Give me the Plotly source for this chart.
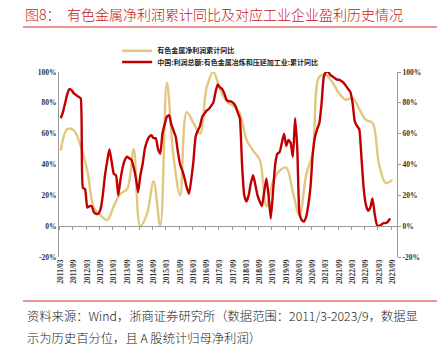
import plotly.graph_objects as go

# ---------------- data ----------------
month_labels = [f"{y}/{m:02d}" for y in range(2011, 2024) for m in range(1, 13)]
month_labels = month_labels[2:2 + 151]          # 2011/03 ... 2023/09

tick_labels = [f"{y}/{m}" for y in range(2011, 2024) for m in ("03", "09")]

# 有色金属净利润累计同比 (quarterly, historical percentile %)
gold_vals = [49, 63, 62, 52, 36, 12, 7, 4, 13, 21, 24, 50, 0, 8, 29, 0, 93, 45, 20, 74,
             67, 60, 90, 100, 89, 81, 78, 73, 56, 49, 43, 13, 29, 36, 38, 22, 7, 33, 48, 97,
             98, 93, 86, 82, 83, 76, 69, 67, 40, 28, 30]

# 中国:利润总额:有色金属冶炼和压延加工业:累计同比 (monthly, historical percentile %)
red_vals = [70, 74, 80, 86, 89, 88, 86, 85, 84, 83,
            25, 24, 12, 13, 13, 9, 8, 8, 11, 20,
            33, 42, 50, 42, 34, 33, 20, 30, 38, 43,
            45, 44, 43, 38, 31, 22, 33, 40, 50, 55,
            58, 59, 57, 57, 50, 47, 60, 66, 71, 72,
            66, 62, 58, 48, 40, 36, 31, 25, 21, 30,
            42, 58, 62, 65, 71, 73, 75, 76, 78, 80,
            87, 92, 90, 89, 86, 82, 81, 81, 80, 78,
            74, 70, 40, 20, 16, 20, 28, 33, 27, 20,
            16, 13, 22, 31, 20, 5, 22, 40, 47, 48,
            54, 60, 52, 56, 54, 45, 70, 50, 8, 4,
            3, 6, 14, 26, 47, 58, 63, 67, 80, 97,
            100, 100, 98, 97, 96, 95, 95, 94, 93, 91,
            89, 87, 80, 68, 65, 63, 45, 25, 14, 10,
            12, 18, 8, 1, 0, 1, 2, 2, 3, 5]

gold_x = [month_labels.index(m) for m in month_labels[::3]][:len(gold_vals)]
red_x = list(range(len(red_vals)))
tick_pos = [month_labels.index(t) for t in tick_labels]

y_ticks = [-20, 0, 20, 40, 60, 80, 100]
y_tick_text = [f"{v}%" for v in y_ticks]

GOLD = "#e2c77f"
RED = "#c00000"
XR = [-0.8, 152.1]
YR = [-20, 100]

fig = go.Figure()
fig.add_trace(go.Scatter(
    x=gold_x, y=gold_vals, mode="lines", name="有色金属净利润累计同比",
    line=dict(color=GOLD, width=2.4, shape="spline", smoothing=1.0),
    legend="legend", hoverinfo="skip"))
fig.add_trace(go.Scatter(
    x=red_x, y=red_vals, mode="lines", name="中国:利润总额:有色金属冶炼和压延加工业:累计同比",
    line=dict(color=RED, width=2.4, shape="spline", smoothing=0.5),
    xaxis="x2", yaxis="y2", legend="legend2", hoverinfo="skip"))

tickfont = dict(family="Liberation Serif", size=7.5, color="#333333", weight="bold")
legfont = dict(family="Noto Sans CJK SC", size=7, color="#222222", weight="bold")

fig.update_layout(
    width=437, height=351,
    margin=dict(l=59, r=40, t=72, b=94),
    paper_bgcolor="white", plot_bgcolor="white",
    showlegend=True,
    xaxis=dict(range=XR, tickmode="array", tickvals=tick_pos, ticktext=tick_labels,
               tickangle=-90, tickfont=tickfont, showgrid=False, zeroline=False,
               showline=False, ticks="", ticklen=0),
    xaxis2=dict(range=XR, overlaying="x", anchor="free", position=1 / 6,
                tickmode="array", tickvals=[p - 0.5 for p in tick_pos],
                ticks="outside", ticklen=3, tickcolor="#9a9a9a", tickwidth=1,
                showticklabels=False, showgrid=False, zeroline=False,
                showline=True, linecolor="#9a9a9a", linewidth=1),
    yaxis=dict(range=YR, tickmode="array", tickvals=y_ticks, ticktext=y_tick_text,
               tickfont=tickfont, showgrid=False, zeroline=False,
               showline=True, linecolor="#9a9a9a", linewidth=1, ticks="", ticklen=0),
    yaxis2=dict(range=YR, overlaying="y", side="right", anchor="x2",
                tickmode="array", tickvals=y_ticks, ticktext=y_tick_text,
                tickfont=tickfont, showgrid=False, zeroline=False,
                showline=True, linecolor="#9a9a9a", linewidth=1,
                ticks="outside", ticklen=3, tickcolor="#9a9a9a"),
    legend=dict(x=0.172, y=1.115, xanchor="left", yanchor="middle",
                bgcolor="rgba(0,0,0,0)", font=legfont, itemwidth=30,
                tracegroupgap=0),
    legend2=dict(x=0.172, y=1.054, xanchor="left", yanchor="middle",
                 bgcolor="rgba(0,0,0,0)", font=legfont, itemwidth=30,
                 tracegroupgap=0),
)

title_font = dict(family="Noto Sans CJK SC", size=14, color="#c4141b", weight=300)
fig.add_annotation(text="图8：", x=-0.1065, y=1.3135, xref="paper", yref="paper",
                   xanchor="left", yanchor="middle", showarrow=False, font=title_font)
fig.add_annotation(text="有色金属净利润累计同比及对应工业企业盈利历史情况",
                   x=0.0178, y=1.3135, xref="paper", yref="paper",
                   xanchor="left", yanchor="middle", showarrow=False, font=title_font)

foot_font = dict(family="Noto Sans CJK SC", size=12.3, color="#222222", weight=300)
fig.add_annotation(text="资料来源：Wind，浙商证券研究所（数据范围：2011/3-2023/9，数据显",
                   x=-0.1006, y=-0.3189, xref="paper", yref="paper",
                   xanchor="left", yanchor="middle", showarrow=False, font=foot_font)
fig.add_annotation(text="示为历史百分位，且 A 股统计归母净利润）",
                   x=-0.1006, y=-0.4378, xref="paper", yref="paper",
                   xanchor="left", yanchor="middle", showarrow=False, font=foot_font)

for yv in (1.2432, -0.2378):
    fig.add_shape(type="line", xref="paper", yref="paper", x0=-0.1065, x1=1.1183,
                  y0=yv, y1=yv, line=dict(color="#e07070", width=1.5))

fig.write_html("out.html")
